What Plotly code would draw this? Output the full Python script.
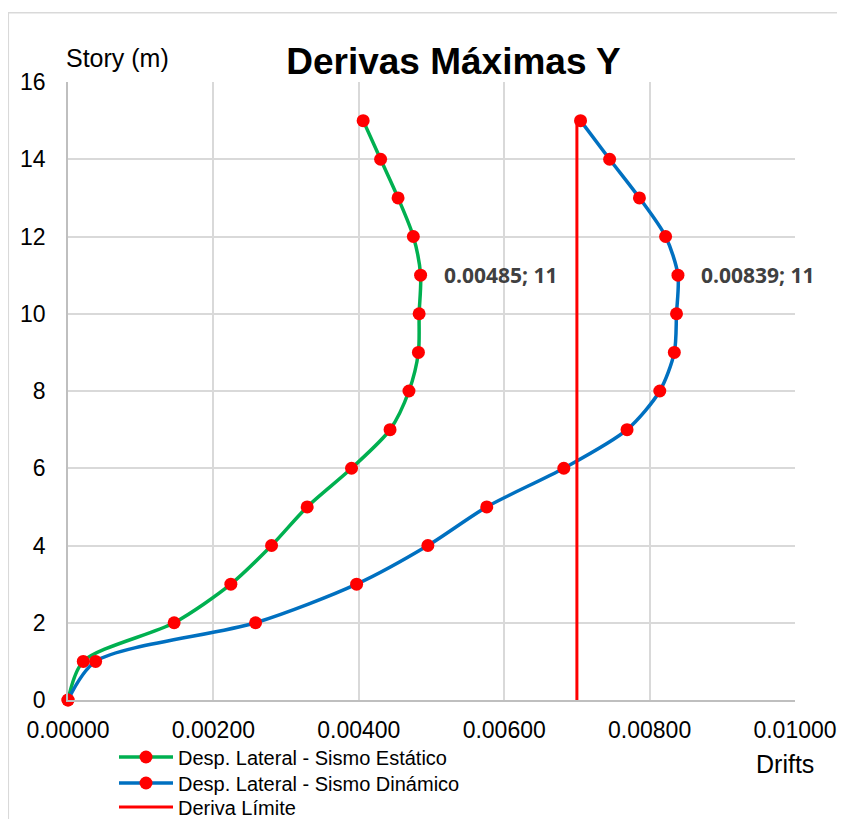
import plotly.graph_objects as go

story = [0, 1, 2, 3, 4, 5, 6, 7, 8, 9, 10, 11, 12, 13, 14, 15]
drift_estatico = [0.0, 0.00021, 0.00146, 0.00224, 0.00280, 0.00329, 0.00390, 0.00443,
                  0.00469, 0.00482, 0.00483, 0.00485, 0.00475, 0.00454, 0.00430, 0.00406]
drift_dinamico = [0.0, 0.00038, 0.00258, 0.00397, 0.00495, 0.00576, 0.00682, 0.00769,
                  0.00814, 0.00834, 0.00837, 0.00839, 0.00822, 0.00786, 0.00745, 0.00705]
limite_x = [0.0070, 0.0070]
limite_y = [0, 15]
x_ticks = [0.0, 0.002, 0.004, 0.006, 0.008, 0.010]
x_ticklabels = ["0.00000", "0.00200", "0.00400", "0.00600", "0.00800", "0.01000"]
y_ticks = [0, 2, 4, 6, 8, 10, 12, 14, 16]
label_points = [(0.00485, 11, "0.00485; 11"), (0.00839, 11, "0.00839; 11")]

FONT = "Liberation Sans, Arial, sans-serif"
W, H = 837, 811  # page body adds an 8px offset in the 845x819 window

fig = go.Figure()
fig.add_trace(go.Scatter(
    x=drift_estatico, y=story, mode="lines+markers",
    name="Desp. Lateral - Sismo Estático", legend="legend", cliponaxis=False,
    line=dict(color="#00B050", width=3.5, shape="spline", smoothing=0.8),
    marker=dict(color="#FF0000", size=13),
))
fig.add_trace(go.Scatter(
    x=drift_dinamico, y=story, mode="lines+markers",
    name="Desp. Lateral - Sismo Dinámico", legend="legend2", cliponaxis=False,
    line=dict(color="#0070C0", width=3.5, shape="spline", smoothing=0.8),
    marker=dict(color="#FF0000", size=13),
))
fig.add_trace(go.Scatter(
    x=limite_x, y=limite_y, mode="lines",
    name="Deriva Límite", legend="legend3", cliponaxis=False,
    line=dict(color="#FF0000", width=3),
))

for lx, ly, lt in label_points:
    fig.add_annotation(x=lx, y=ly, text="<b>" + lt + "</b>", showarrow=False,
                       xanchor="left", yanchor="middle", xshift=21,
                       font=dict(family="Open Sans, sans-serif", size=21, color="#404040"))

fig.add_annotation(xref="paper", yref="paper", x=0.0687, y=1.0388,
                   text="Story (m)", showarrow=False, xanchor="center", yanchor="middle",
                   font=dict(family=FONT, size=25, color="#000000"))
fig.add_annotation(xref="paper", yref="paper", x=0.9863, y=-0.1036,
                   text="Drifts", showarrow=False, xanchor="center", yanchor="middle",
                   font=dict(family=FONT, size=25, color="#000000"))

fig.add_shape(type="rect", xref="paper", yref="paper", x0=-0.0821, x1=1.0646, y0=-0.3, y1=1.1121,
              line=dict(color="#D9D9D9", width=1.5), fillcolor="rgba(0,0,0,0)", layer="below")


def leg(center_y):
    return dict(xref="container", yref="container", x=106 / W, xanchor="left",
                y=1 - center_y / H, yanchor="middle",
                font=dict(family=FONT, size=20, color="#000000"),
                itemwidth=54, bgcolor="rgba(0,0,0,0)")


fig.update_layout(
    width=W, height=H,
    margin=dict(l=60, r=50, t=74, b=119, autoexpand=False),
    paper_bgcolor="white", plot_bgcolor="white",
    title=dict(text="<b>Derivas Máximas Y</b>", x=445.5 / W, xanchor="center",
               y=1 - 53 / H, yanchor="middle",
               font=dict(family=FONT, size=37, color="#000000")),
    font=dict(family=FONT, size=23, color="#000000"),
    showlegend=True,
    legend=leg(749),
    legend2=leg(775),
    legend3=leg(799),
    xaxis=dict(range=[0, 0.010], tickvals=x_ticks, ticktext=x_ticklabels,
               showgrid=True, gridcolor="#D9D9D9", gridwidth=1.5,
               showline=True, linecolor="#BFBFBF", linewidth=1.5,
               zeroline=False, ticks="", ticklabelstandoff=9, automargin=False,
               tickfont=dict(family=FONT, size=23)),
    yaxis=dict(range=[0, 16], tickvals=y_ticks,
               showgrid=True, gridcolor="#D9D9D9", gridwidth=1.5,
               showline=True, linecolor="#BFBFBF", linewidth=1.5,
               zeroline=False, ticks="", ticklabelstandoff=16, automargin=False,
               tickfont=dict(family=FONT, size=23)),
)

fig.write_html("out.html")
